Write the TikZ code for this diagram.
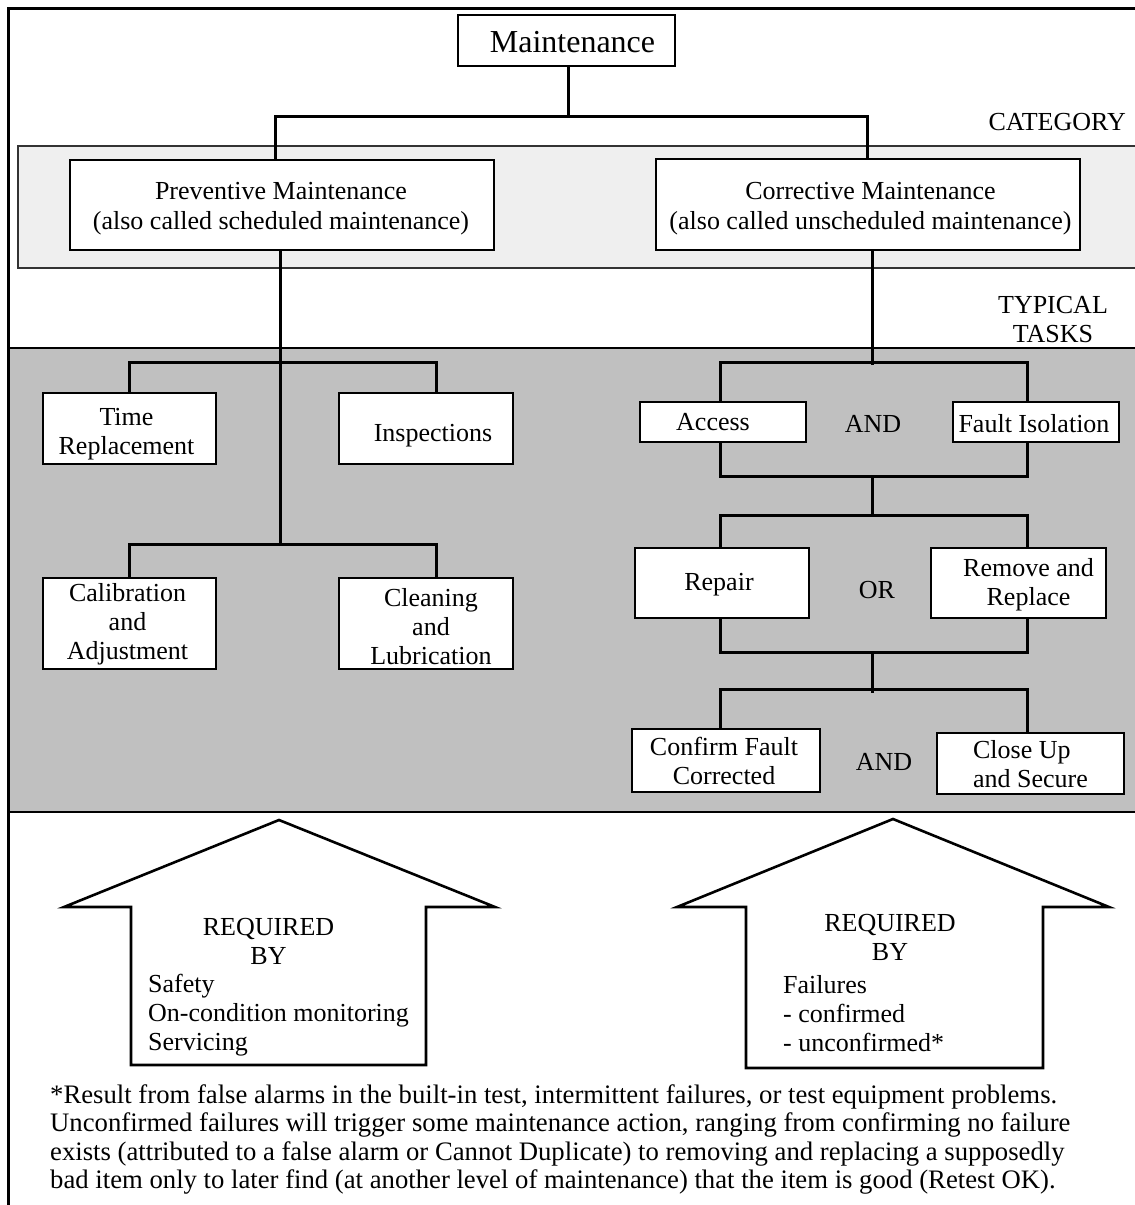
\documentclass[tikz,border=0pt]{standalone}
\usepackage{fontspec}
\setmainfont{Liberation Serif}
\definecolor{lightband}{HTML}{EFEFEF}
\definecolor{darkband}{HTML}{C0C0C0}
\begin{document}
\begin{tikzpicture}[x=1pt,y=-1pt,
  every node/.style={font=\fontsize{26}{29}\selectfont, inner sep=0pt},
  box/.style 2 args={draw, line width=2.4pt, fill=white,
    minimum width=#1pt, minimum height=#2pt},
  txt/.style={align=center},
  conn/.style={line width=3pt},
  band/.style={line width=2.2pt},
  arrowshape/.style={draw, line width=2.6pt, line join=miter, fill=white}]
\useasboundingbox (0,0) rectangle (1135,1205);
% bands and frame
\draw[band, draw=black!80, fill=lightband] (18,146) rectangle (1145,268);
\draw[band, fill=darkband] (8,348) rectangle (1145,812);
\draw[line width=3pt] (8,1215) -- (8,8) -- (1145,8);
% boxes
\node[box={217}{51}] (maint) at (566.5,40.5) {};
\node[box={424}{90}] (prev) at (282,205) {};
\node[box={424}{91}] (corr) at (868,204.5) {};
\node[box={173}{71}] (time) at (129.5,428.5) {};
\node[box={174}{71}] (insp) at (426,428.5) {};
\node[box={173}{91}] (cal) at (129.5,623.5) {};
\node[box={174}{91}] (clean) at (426,623.5) {};
\node[box={166}{40}] (access) at (723,422) {};
\node[box={166}{40}] (fault) at (1036,422) {};
\node[box={174}{70}] (repair) at (722,583) {};
\node[box={175}{70}] (remove) at (1018.5,583) {};
\node[box={188}{63}] (confirm) at (726,760.5) {};
\node[box={187}{61}] (close) at (1030.5,763.5) {};
% box texts
\node[txt, font=\fontsize{32}{36}\selectfont] (maintT) at ([shift={(6,2)}]maint.center) {Maintenance};
\node[txt, font=\fontsize{26}{30}\selectfont] (prevT) at ([shift={(-1,4)}]prev.center) {Preventive Maintenance\\(also called scheduled maintenance)};
\node[txt, font=\fontsize{26}{30}\selectfont] (corrT) at ([shift={(2.5,4)}]corr.center) {Corrective Maintenance\\(also called unscheduled maintenance)};
\node[txt] (timeT) at ([shift={(-3,6)}]time.center) {Time\\Replacement};
\node[txt] (inspT) at ([shift={(7,7)}]insp.center) {Inspections};
\node[txt] (calT) at ([shift={(-2,1)}]cal.center) {Calibration\\and\\Adjustment};
\node[txt] (cleanT) at ([shift={(5,3)}]clean.center) {Cleaning\\and\\Lubrication};
\node[txt] (accessT) at ([shift={(-10,0)}]access.center) {Access};
\node[txt] (faultT) at ([shift={(-2,2)}]fault.center) {Fault Isolation};
\node[txt] (repairT) at ([shift={(-3,2)}]repair.center) {Repair};
\node[txt] (removeT) at ([shift={(10,1.5)}]remove.center) {Remove and\\Replace};
\node[txt] (confirmT) at ([shift={(-2,0)}]confirm.center) {Confirm Fault\\Corrected};
\node[align=left] (closeT) at ([shift={(0,1)}]close.center) {Close Up\\and Secure};
% labels
\node[anchor=east] (cat) at (1126,122) {CATEGORY};
\node[align=center] (typ) at (1053,319.5) {TYPICAL\\TASKS};
\node (and1) at (873,424) {AND};
\node (or1) at (877,590) {OR};
\node (and2) at (884,762) {AND};
% top connectors
\coordinate (t1) at (568,116);
\draw[conn] ([xshift=1.5pt]maint.south) -- (t1);
\draw[conn] ([xshift=-7pt]prev.north) |- (t1) -| ([xshift=-1pt]corr.north);
% left tree
\coordinate (l1) at (280,362);
\coordinate (l2) at (280,544);
\draw[conn] ([xshift=-2pt]prev.south) -- (l2);
\draw[conn] ([xshift=-0.5pt]time.north) |- (l1) -| ([xshift=10pt]insp.north);
\draw[conn] ([xshift=-0.5pt]cal.north) |- (l2) -| ([xshift=10pt]clean.north);
% right tree
\coordinate (r1) at (872,362);
\coordinate (r2) at (872,476);
\coordinate (r3) at (872,515);
\coordinate (r4) at (872,652);
\coordinate (r5) at (872,689);
\draw[conn] ([xshift=4pt]corr.south) -- ([yshift=-3pt]r1);
\draw[conn] ([xshift=-3pt]access.north) |- (r1) -| ([xshift=-9pt]fault.north);
\draw[conn] ([xshift=-3pt]access.south) |- (r2) -| ([xshift=-9pt]fault.south);
\draw[conn] (r2) -- (r3);
\draw[conn] ([xshift=-2pt]repair.north) |- (r3) -| ([xshift=8.5pt]remove.north);
\draw[conn] ([xshift=-2pt]repair.south) |- (r4) -| ([xshift=8.5pt]remove.south);
\draw[conn] (r4) -- ([yshift=-4pt]r5);
\draw[conn] ([xshift=-6pt]confirm.north) |- (r5) -| ([xshift=-3.5pt]close.north);
% arrows
\draw[arrowshape] (279,820) -- (64,907) -- (131,907) -- (131,1065) -- (426,1065) -- (426,907) -- (495,907) -- cycle;
\draw[arrowshape] (893,819) -- (677,907) -- (746,907) -- (746,1068) -- (1043,1068) -- (1043,907) -- (1109,907) -- cycle;
\node[align=center] (req1) at (268.5,941.5) {REQUIRED\\BY};
\node[align=left, anchor=west] (list1) at (148,1015.5) {Safety\\On-condition monitoring\\Servicing};
\node[align=center] (req2) at (890,937) {REQUIRED\\BY};
\node[align=left, anchor=west] (list2) at (783,1013.5) {Failures\\- confirmed\\- unconfirmed*};
% footnote
\node[align=left, anchor=north west, font=\fontsize{26.7}{28.3}\selectfont] (note) at (50,1084.5) {*Result from false alarms in the built-in test, intermittent failures, or test equipment problems.\\Unconfirmed failures will trigger some maintenance action, ranging from confirming no failure\\exists (attributed to a false alarm or Cannot Duplicate) to removing and replacing a supposedly\\bad item only to later find (at another level of maintenance) that the item is good (Retest OK).};
\end{tikzpicture}
\end{document}
